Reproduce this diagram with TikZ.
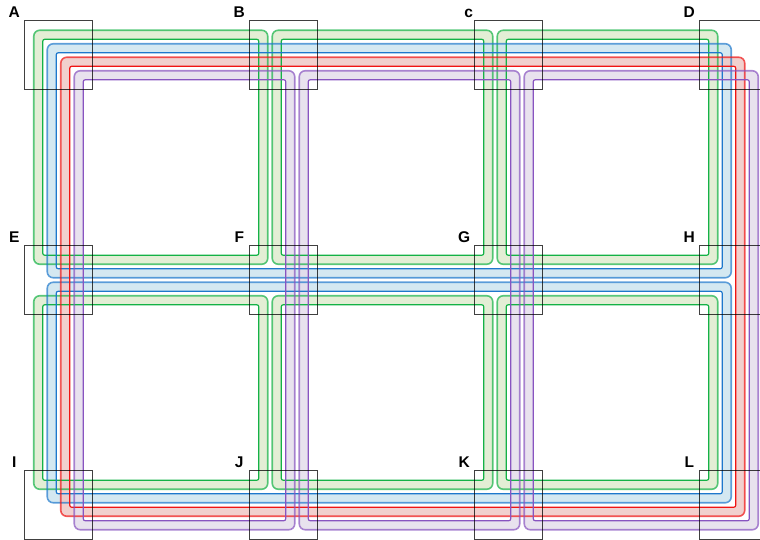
\documentclass[tikz,border=0pt]{standalone}
\usepackage{fontspec}
\setmainfont{Liberation Sans}
\definecolor{gline}{RGB}{20,178,70}
\definecolor{gfill}{RGB}{222,235,206}
\definecolor{bline}{RGB}{30,120,204}
\definecolor{bfill}{RGB}{204,228,239}
\definecolor{rline}{RGB}{240,20,20}
\definecolor{rfill}{RGB}{238,200,197}
\definecolor{pline}{RGB}{136,84,192}
\definecolor{pfill}{RGB}{228,221,235}
\newcommand\loopfill[5]{%
  \fill[#1fill,fill opacity=0.85,even odd rule,rounded corners=6]
    (#2-4.5,#3-4.5) rectangle (#4+4.5,#5+4.5)
    [rounded corners=2] (#2+4.5,#3+4.5) rectangle (#4-4.5,#5-4.5);}
\newcommand\loopline[5]{%
  \draw[#1line,line width=1.6,draw opacity=0.7,rounded corners=6]
    (#2-4.5,#3-4.5) rectangle (#4+4.5,#5+4.5);
  \draw[#1line,line width=1.2,rounded corners=2]
    (#2+4.5,#3+4.5) rectangle (#4-4.5,#5-4.5);}
\newcommand\allloops[1]{%
  % green cells
  #1{g}{38.25}{34.75}{263.25}{259.75}
  #1{g}{276.75}{34.75}{488.25}{259.75}
  #1{g}{501.75}{34.75}{713.25}{259.75}
  #1{g}{38.25}{300.25}{263.25}{484.75}
  #1{g}{276.75}{300.25}{488.25}{484.75}
  #1{g}{501.75}{300.25}{713.25}{484.75}
  % blue rows
  #1{b}{51.75}{48.25}{726.75}{273.25}
  #1{b}{51.75}{286.75}{726.75}{498.25}
  % red ring
  #1{r}{65.25}{61.75}{740.25}{511.75}
  % purple columns
  #1{p}{78.75}{75.25}{290.25}{525.25}
  #1{p}{303.75}{75.25}{515.25}{525.25}
  #1{p}{528.75}{75.25}{753.75}{525.25}
}
\begin{document}
\begin{tikzpicture}[x=1pt,y=-1pt,
  box/.style={draw=black,draw opacity=0.75,line width=1.3,minimum size=68.5pt,inner sep=0pt,fill=none},
  lbl/.style={anchor=base,inner sep=0pt,font=\fontsize{15.5}{18}\selectfont\bfseries}]
\useasboundingbox (0,0) rectangle (760,540);
\allloops\loopfill
\allloops\loopline
% boxes
\node[box] (A) at (58.5,55) {};
\node[box] (B) at (283.5,55) {};
\node[box] (C) at (508.5,55) {};
\node[box] (D) at (733.5,55) {};
\node[box] (E) at (58.5,280) {};
\node[box] (F) at (283.5,280) {};
\node[box] (G) at (508.5,280) {};
\node[box] (H) at (733.5,280) {};
\node[box] (I) at (58.5,505) {};
\node[box] (J) at (283.5,505) {};
\node[box] (K) at (508.5,505) {};
\node[box] (L) at (733.5,505) {};
% labels
\node[lbl] (lA) at (14.25,17.75) {A};
\node[lbl] (lB) at (239.25,17.75) {B};
\node[lbl] (lC) at (468.75,17.75) {c};
\node[lbl] (lD) at (689.25,17.75) {D};
\node[lbl] (lE) at (14.25,242.75) {E};
\node[lbl] (lF) at (239.25,242.75) {F};
\node[lbl] (lG) at (464.25,242.75) {G};
\node[lbl] (lH) at (689.25,242.75) {H};
\node[lbl] (lI) at (14.25,467.75) {I};
\node[lbl] (lJ) at (239.25,467.75) {J};
\node[lbl] (lK) at (464.25,467.75) {K};
\node[lbl] (lL) at (689.25,467.75) {L};
\end{tikzpicture}
\end{document}
